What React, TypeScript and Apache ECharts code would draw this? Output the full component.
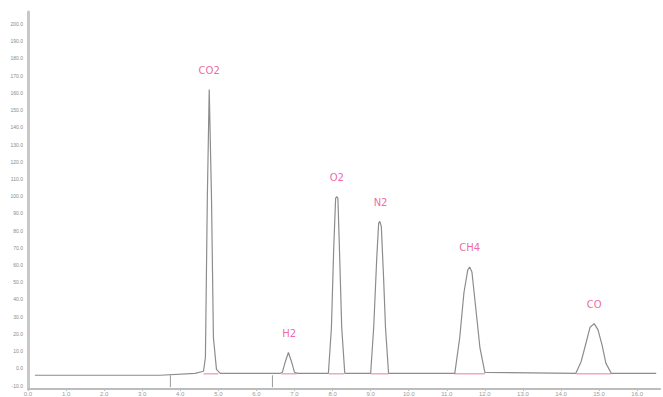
import React, { useEffect, useRef } from "react";
import * as echarts from "echarts";

// Chromatogram trace: [retention time (min), signal]
const traceTime = [
  0.18, 3.47, 4.39, 4.61, 4.66, 4.71, 4.76, 4.82, 4.87, 4.95, 5.05,
  6.63, 6.68, 6.76, 6.84, 6.92, 7.0, 7.08,
  7.89, 7.97, 8.03, 8.08, 8.11, 8.14, 8.18, 8.24, 8.32,
  9.0, 9.08, 9.16, 9.21, 9.24, 9.28, 9.34, 9.39, 9.47,
  11.21, 11.34, 11.45, 11.55, 11.6, 11.66, 11.76, 11.87, 12.0,
  14.39, 14.53, 14.66, 14.76, 14.87, 14.97, 15.08, 15.18, 15.32,
  16.5,
];
const traceSignal = [
  -4, -4, -2.9, -1.7, 6.3, 98.7, 162, 98.7, 17.9, -0.6, -2.9,
  -2.9, -2.3, 4.0, 9.2, 4.0, -2.3, -2.9,
  -2.9, 23.7, 69.8, 98.7, 99.8, 98.7, 69.8, 23.7, -2.9,
  -2.9, 23.7, 64, 84.2, 85.4, 82.5, 52.5, 23.7, -2.9,
  -2.9, 17.9, 43.9, 57.1, 58.9, 56, 35.2, 12.1, -2.3,
  -2.9, 4, 15, 23.7, 26, 22.5, 13.3, 2.9, -2.9,
  -2.9,
];

// Peaks
const peakNames = ["CO2", "H2", "O2", "N2", "CH4", "CO"];
const peakTimes = [4.76, 6.86, 8.11, 9.26, 11.6, 14.87];
const peakHeights = [162, 9.2, 99.8, 85.4, 58.9, 26];
const peakStart = [4.61, 6.66, 7.9, 9.0, 11.2, 14.4];
const peakEnd = [5.0, 7.05, 8.3, 9.47, 12.0, 15.32];

// Integration marker segments (times)
const markerTimes = [3.74, 6.42];

const Y_MIN = -12;
const Y_MAX = 207;

export default function App() {
  const ref = useRef<HTMLDivElement>(null);
  useEffect(() => {
    if (!ref.current) return;
    const chart = echarts.init(ref.current, null, { renderer: "svg" });
    const trace = traceTime.map((t, i) => [t, traceSignal[i]]);
    const integ: any[] = [];
    peakStart.forEach((s, i) => {
      integ.push([s, -3.2]);
      integ.push([peakEnd[i], -3.2]);
      integ.push([null, null]);
    });
    const markers: any[] = [];
    markerTimes.forEach((t) => {
      markers.push([t, -4]);
      markers.push([t, -11]);
      markers.push([null, null]);
    });
    chart.setOption({
      animation: false,
      backgroundColor: "#ffffff",
      grid: { left: 28, right: 3, top: 12, bottom: 5, containLabel: false },
      xAxis: {
        type: "value",
        min: 0,
        max: 16.6,
        interval: 1,
        axisLine: {
          show: true,
          onZero: false,
          lineStyle: { color: "#bdbdbd", width: 2 },
        },
        axisTick: { show: true, length: 2, lineStyle: { color: "#bdbdbd" } },
        axisLabel: {
          fontSize: 6,
          color: "#9a9a9a",
          margin: 2,
          showMaxLabel: false,
          formatter: (v: number) => v.toFixed(1),
        },
        splitLine: { show: false },
      },
      yAxis: {
        type: "value",
        min: Y_MIN,
        max: Y_MAX,
        interval: 10,
        axisLine: { show: true, lineStyle: { color: "#c8c8c8", width: 3 } },
        axisTick: { show: false },
        axisLabel: {
          fontSize: 5,
          color: "#8a8a8a",
          margin: 5,
          customValues: [
            -10, 0, 10, 20, 30, 40, 50, 60, 70, 80, 90, 100, 110, 120, 130, 140,
            150, 160, 170, 180, 190, 200,
          ],
          formatter: (v: number) => v.toFixed(1),
        },
        splitLine: { show: false },
      },
      series: [
        {
          name: "integration",
          type: "line",
          data: integ,
          symbol: "none",
          connectNulls: false,
          lineStyle: { color: "#f4a6c4", width: 1.5 },
          z: 1,
        },
        {
          name: "markers",
          type: "line",
          data: markers,
          symbol: "none",
          connectNulls: false,
          lineStyle: { color: "#9a9a9a", width: 1 },
          z: 1,
        },
        {
          name: "signal",
          type: "line",
          data: trace,
          symbol: "none",
          lineStyle: { color: "#8c8c8c", width: 1.2 },
          z: 2,
        },
        {
          name: "peaks",
          type: "scatter",
          data: peakTimes.map((t, i) => ({
            value: [t, peakHeights[i]],
            name: peakNames[i],
          })),
          symbolSize: 0,
          label: {
            show: true,
            position: "top",
            distance: 14,
            formatter: (p: any) => p.name,
            color: "#e8438a",
            fontSize: 10,
            fontFamily: "DejaVu Sans",
          },
          z: 3,
        },
      ],
    });
    return () => chart.dispose();
  }, []);
  return (
    <div
      ref={ref}
      style={{ position: "fixed", left: 0, top: 0, width: 663, height: 397 }}
    />
  );
}
